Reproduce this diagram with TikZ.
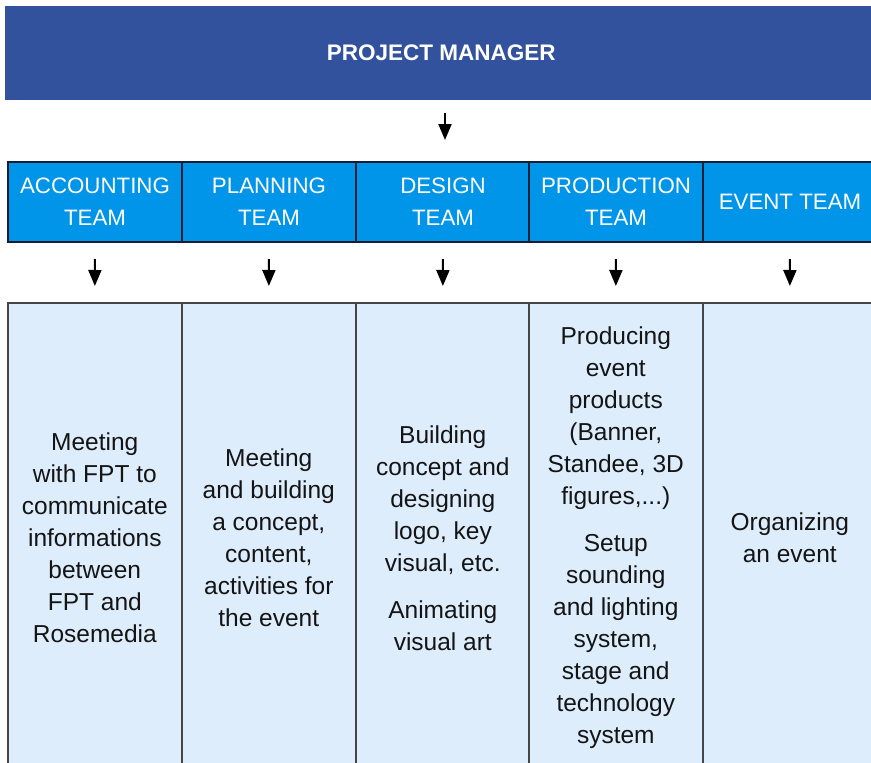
\documentclass[tikz,border=0pt]{standalone}
\usepackage{fontspec}
\setmainfont{Liberation Sans}
\usetikzlibrary{arrows.meta}
\definecolor{pmblue}{RGB}{51,82,158}
\definecolor{teamblue}{RGB}{0,149,233}
\definecolor{descbg}{RGB}{222,237,251}
\definecolor{teamborder}{RGB}{20,30,50}
\definecolor{descborder}{RGB}{70,70,70}
\definecolor{bodytext}{RGB}{20,20,20}
\tikzset{
  pmbox/.style={fill=pmblue, text=white, anchor=north west, inner sep=0pt,
    minimum width=872pt, minimum height=94pt,
    font=\fontsize{22.5}{30}\selectfont\bfseries},
  teambox/.style={fill=teamblue, draw=teamborder, line width=2pt, text=white,
    anchor=north west, inner sep=0pt, minimum width=174pt, minimum height=80pt,
    align=center, font=\fontsize{22.3}{32}\selectfont},
  descbox/.style={fill=descbg, draw=descborder, line width=1.6pt, text=bodytext,
    anchor=north west, inner sep=0pt, minimum width=174pt, minimum height=470pt,
    align=center, font=\fontsize{24.5}{32}\selectfont},
  arr/.style={line width=2pt, -{Triangle[width=13pt,length=16pt]}}
}
\begin{document}
\begin{tikzpicture}[x=1pt,y=-1pt]
\useasboundingbox (0,0) rectangle (871,763);
\clip (0,0) rectangle (871,763);
\fill[white] (0,0) rectangle (871,763);

\node[pmbox] (pm) at (5,6) {PROJECT MANAGER};

\node[teambox] (t1) at (7,161)   {ACCOUNTING\\TEAM};
\node[teambox] (t2) at (181,161) {PLANNING\\TEAM};
\node[teambox] (t3) at (355,161) {DESIGN\\TEAM};
\node[teambox] (t4) at (528,161) {PRODUCTION\\TEAM};
\node[teambox] (t5) at (702,161) {EVENT TEAM};

\node[descbox] (d1) at (7,302) {Meeting\\with FPT to\\communicate\\informations\\between\\FPT and\\Rosemedia};
\node[descbox] (d2) at (181,302) {Meeting\\and building\\a concept,\\content,\\activities for\\the event};
\node[descbox] (d3) at (355,302) {Building\\concept and\\designing\\logo, key\\visual, etc.\\[15pt]Animating\\visual art};
\node[descbox] (d4) at (528,302) {Producing\\event\\products\\(Banner,\\Standee, 3D\\figures,...)\\[15pt]Setup\\sounding\\and lighting\\system,\\stage and\\technology\\system};
\node[descbox] (d5) at (702,302) {Organizing\\an event};

\draw[arr, shorten <=13pt, shorten >=21pt] ([xshift=2pt]t3.north |- pm.south) -- ([xshift=2pt]t3.north);
\foreach \i in {1,...,5}{
  \draw[arr, shorten <=16pt, shorten >=16pt] (t\i.south) -- (d\i.north);
}
\end{tikzpicture}
\end{document}
